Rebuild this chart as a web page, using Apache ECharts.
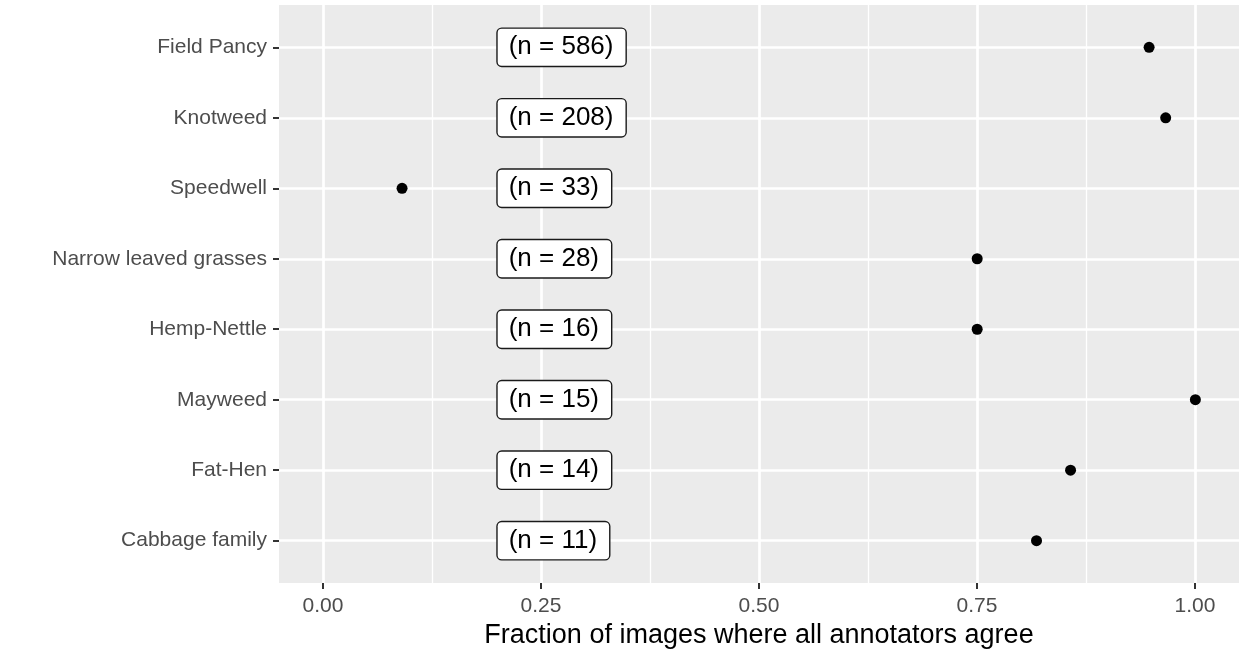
<!DOCTYPE html>
<html>
<head>
<meta charset="utf-8">
<script src="https://cdn.jsdelivr.net/npm/echarts@6/dist/echarts.min.js"></script>
<style>
  html, body { margin: 0; padding: 0; background: #fff; }
  #agree-dot { width: 1248px; height: 663px; }
</style>
</head>
<body>
<div id="agree-dot"></div>
<script>
// species, top to bottom
const categories = ['Field Pancy', 'Knotweed', 'Speedwell', 'Narrow leaved grasses', 'Hemp-Nettle', 'Mayweed', 'Fat-Hen', 'Cabbage family']
// fraction of images where all annotators agree
const agreeFraction = [0.947, 0.966, 0.091, 0.75, 0.75, 1.0, 0.857, 0.818]
// number of images per species
const imageCounts = [586, 208, 33, 28, 16, 15, 14, 11]
// x where the (n = ..) boxes start
const countLabelX = 0.2
const xTicks = [0, 0.25, 0.5, 0.75, 1]

const font = 'Liberation Sans, Arial, sans-serif'

const chart = echarts.init(document.getElementById('agree-dot'))

const option = {
  backgroundColor: '#fff',
  animation: false,
  textStyle: { fontFamily: font },
  grid: [
    // panel background
    { left: 279, right: 9, top: 5, bottom: 80, show: true, backgroundColor: '#EBEBEB', borderWidth: 0 },
    // x scale 0..1, vertical grid lines
    { left: 323, right: 53, top: 5, bottom: 80 },
    // categories and points
    { left: 279, right: 9, top: 47.3, bottom: 122.3 }
  ],
  xAxis: [
    { gridIndex: 0, type: 'value', show: false },
    {
      gridIndex: 1,
      type: 'value',
      min: xTicks[0],
      max: xTicks[xTicks.length - 1],
      interval: 0.25,
      axisLine: { show: false, onZero: false },
      axisTick: { show: true, length: 6, lineStyle: { color: '#333', width: 2 } },
      axisLabel: {
        color: '#4D4D4D',
        fontSize: 21,
        fontFamily: font,
        margin: 13,
        formatter: (v) => v.toFixed(2)
      },
      splitLine: { show: true, lineStyle: { color: '#fff', width: 2.7 } },
      minorTick: { show: false, splitNumber: 2 },
      minorSplitLine: { show: true, lineStyle: { color: '#fff', width: 1.35 } },
      name: 'Fraction of images where all annotators agree',
      nameLocation: 'middle',
      nameGap: 39,
      nameTextStyle: { color: '#000', fontSize: 27, fontFamily: font }
    },
    { gridIndex: 2, type: 'value', min: -0.05, max: 1.05, show: false }
  ],
  yAxis: [
    { gridIndex: 0, type: 'value', show: false },
    { gridIndex: 1, type: 'value', show: false },
    {
      gridIndex: 2,
      type: 'category',
      data: categories,
      inverse: true,
      boundaryGap: false,
      axisLine: { show: false, onZero: false },
      axisTick: { show: true, length: 6, lineStyle: { color: '#333', width: 2 } },
      axisLabel: { color: '#4D4D4D', fontSize: 21, fontFamily: font, margin: 12 },
      splitLine: { show: true, lineStyle: { color: '#fff', width: 2.7 } }
    }
  ],
  series: [
    {
      name: 'agree',
      type: 'scatter',
      xAxisIndex: 2,
      yAxisIndex: 2,
      symbol: 'circle',
      symbolSize: 11,
      itemStyle: { color: '#000', opacity: 1 },
      data: agreeFraction.map((v, i) => [v, categories[i]]),
      z: 3
    },
    {
      name: 'count',
      type: 'scatter',
      xAxisIndex: 2,
      yAxisIndex: 2,
      symbolSize: 1,
      itemStyle: { color: 'rgba(0,0,0,0)' },
      data: imageCounts.map((n, i) => [countLabelX, categories[i], n]),
      label: {
        show: true,
        position: 'right',
        distance: 0,
        formatter: (p) => '(n = ' + p.data[2] + ')',
        color: '#000',
        opacity: 1,
        fontSize: 26,
        fontFamily: font,
        lineHeight: 28,
        backgroundColor: '#fff',
        borderColor: '#1a1a1a',
        borderWidth: 1.4,
        borderRadius: 4,
        padding: [6, 12, 3, 11]
      },
      z: 4
    }
  ]
}

chart.setOption(option)
</script>
</body>
</html>
